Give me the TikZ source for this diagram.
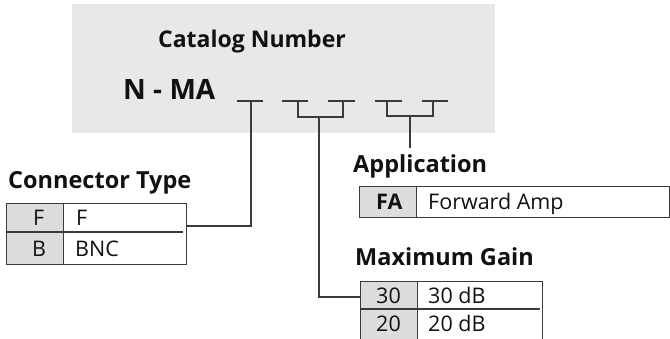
\documentclass[tikz,border=0pt]{standalone}
\usepackage{fontspec}
\setmainfont{Open Sans}
\definecolor{panel}{HTML}{E8E8E6}
\definecolor{cellgray}{HTML}{DDDDDB}
\definecolor{ink}{HTML}{111111}
\definecolor{rule}{HTML}{3A3A3A}
\begin{document}
\begin{tikzpicture}[x=1pt,y=-1pt,
  title/.style={font=\fontsize{23.5}{28}\selectfont\bfseries, text=ink, inner sep=0pt, anchor=base west},
  cell/.style={font=\fontsize{21.5}{26}\selectfont, text=ink, inner sep=0pt, anchor=base west},
  wire/.style={draw=rule, line width=1.3pt},
  frame/.style={draw=rule, line width=1.3pt, inner sep=0pt, anchor=north west},
  graycell/.style={fill=cellgray, draw=none, inner sep=0pt, anchor=north west}]
\useasboundingbox (0,0) rectangle (670,338);
\clip (0,0) rectangle (670,338);
% catalog panel
\node[fill=panel, inner sep=0pt, minimum width=423pt, minimum height=129pt, anchor=north west] (panel) at (72,4) {};
\node[title, font=\fontsize{23}{28}\selectfont\bfseries] (cat) at (158,47) {Catalog Number};
\node[title, font=\fontsize{28}{32}\selectfont\bfseries] (pn) at (123,99) {N - MA};
% position marks
\coordinate (b1a) at (237,101); \coordinate (b1b) at (263,101); \coordinate (t1) at (251,101);
\coordinate (b2a) at (282,101); \coordinate (b2b) at (308,101); \coordinate (h2a) at (298,101);
\coordinate (b3a) at (328,101); \coordinate (b3b) at (355,101); \coordinate (h2b) at (343,101);
\coordinate (b4a) at (375,101); \coordinate (b4b) at (402,101); \coordinate (h3a) at (387,101);
\coordinate (b5a) at (422,101); \coordinate (b5b) at (448,101); \coordinate (h3b) at (433,101);
\coordinate (j2) at (319,117); \coordinate (j3) at (410,116);
\foreach \a/\b in {b1a/b1b,b2a/b2b,b3a/b3b,b4a/b4b,b5a/b5b} \draw[wire] (\a) -- (\b);
\draw[wire] (h2a) -- (h2a |- j2) -- (h2b |- j2) -- (h2b);
\draw[wire] (h3a) -- (h3a |- j3) -- (h3b |- j3) -- (h3b);
\coordinate (e3) at (410,148);
\draw[wire] (j3) -- (e3);
% Connector Type table
\node[title] (ctt) at (8,188) {Connector Type};
\node[graycell, minimum width=57pt, minimum height=61pt] (ctg) at (6,203) {};
\node[frame, minimum width=180pt, minimum height=61pt] (ct) at (6,203) {};
\draw[wire] (ctg.north east) -- (ctg.south east);
\draw[wire] (6,232) -- (183,232);
\node[cell] (ctf) at (33,225) {F};
\node[cell] (ctfv) at (76,225) {F};
\node[cell] (ctb) at (32,256) {B};
\node[cell] (ctbv) at (75,256) {BNC};
\draw[wire] (t1) |- (ct.east |- 0,226);
% Application table
\node[title] (apt) at (353,172) {Application};
\node[graycell, minimum width=57pt, minimum height=31pt] (apg) at (359,186) {};
\node[frame, minimum width=310pt, minimum height=31pt] (ap) at (359,186) {};
\draw[wire] (apg.north east) -- (apg.south east);
\node[cell, font=\fontsize{21.5}{26}\selectfont\bfseries] (apfa) at (376,209) {FA};
\node[cell] (apfav) at (428,209) {Forward Amp};
% Maximum Gain table
\node[title] (mgt) at (355,265) {Maximum Gain};
\node[graycell, minimum width=57pt, minimum height=58pt] (mgg) at (360,281) {};
\node[frame, minimum width=182pt, minimum height=58pt] (mg) at (360,281) {};
\draw[wire] (mgg.north east) -- (mgg.south east);
\draw[wire] (360,309) -- (540,309);
\node[cell] (mg30) at (376,303) {30};
\node[cell] (mg30v) at (428,303) {30 dB};
\node[cell] (mg20) at (376,331) {20};
\node[cell] (mg20v) at (428,331) {20 dB};
\draw[wire] (j2) |- (mg.west |- 0,297);
\end{tikzpicture}
\end{document}
